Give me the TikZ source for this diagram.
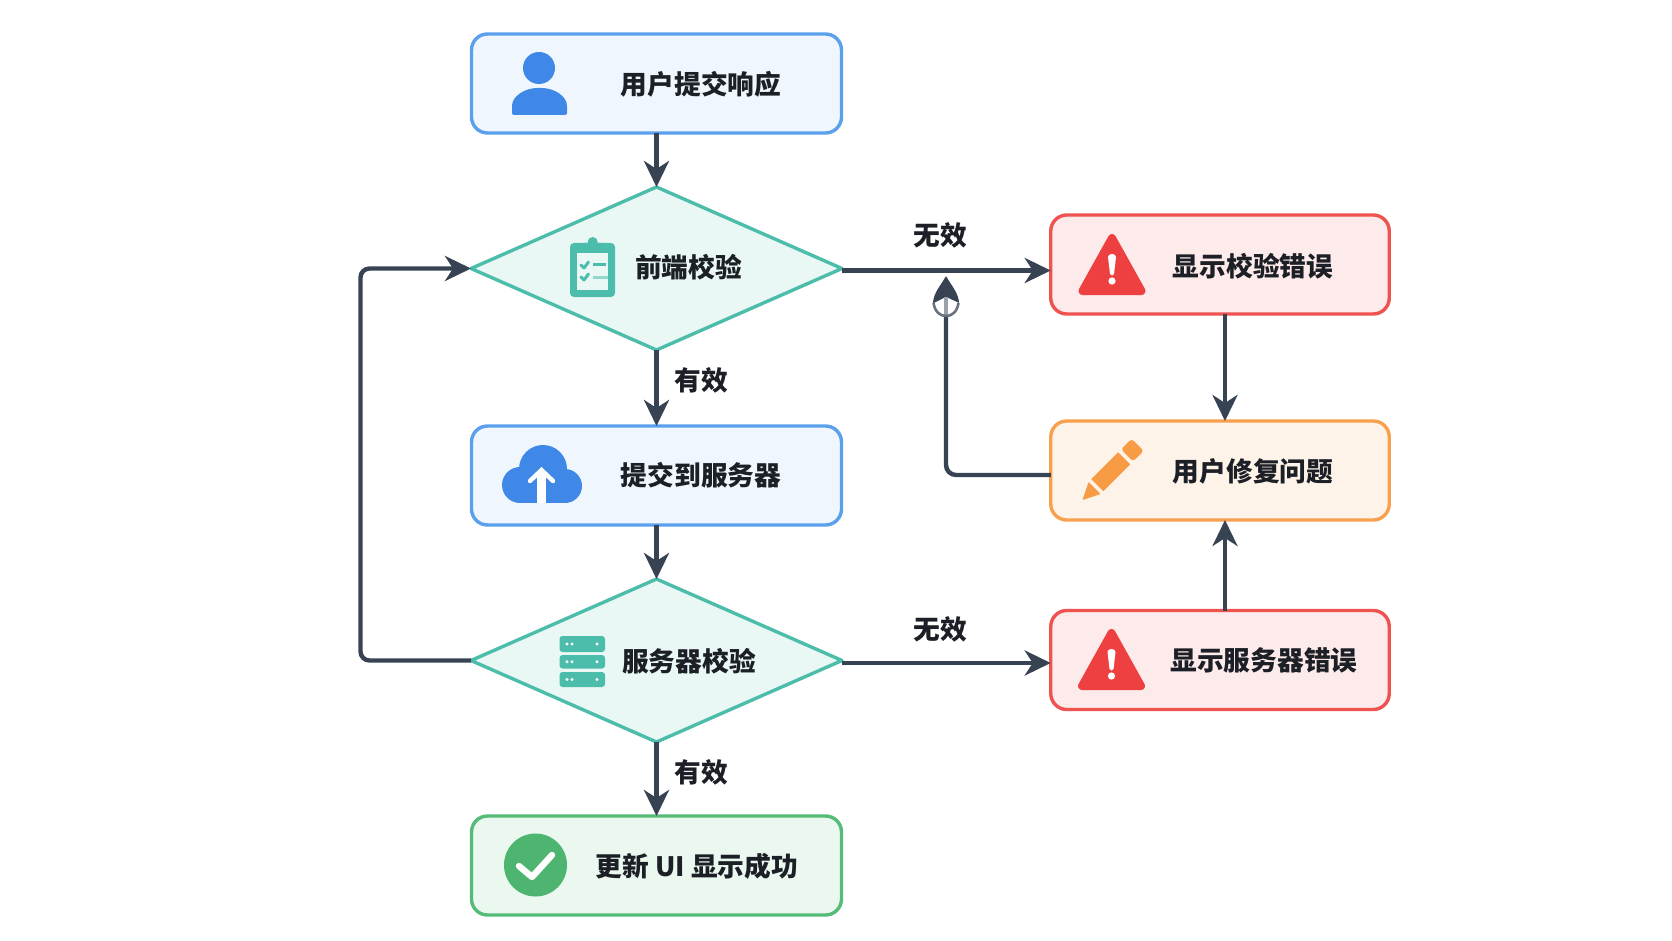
\documentclass[tikz,border=0pt]{standalone}
\usepackage{fontspec}
\setmainfont{Noto Sans CJK SC}
\usetikzlibrary{shapes.geometric,arrows.meta,calc}
\definecolor{bluefill}{HTML}{F0F6FE}
\definecolor{blueline}{HTML}{5BA0EC}
\definecolor{blueicon}{HTML}{3F88E8}
\definecolor{tealfill}{HTML}{EAF8F5}
\definecolor{tealline}{HTML}{4DBDAB}
\definecolor{redfill}{HTML}{FDEAEA}
\definecolor{redline}{HTML}{EF5350}
\definecolor{redicon}{HTML}{EE4040}
\definecolor{orgfill}{HTML}{FEF3E8}
\definecolor{orgline}{HTML}{F9A04E}
\definecolor{orgicon}{HTML}{F79C45}
\definecolor{grnfill}{HTML}{EAF8EF}
\definecolor{grnline}{HTML}{55BC78}
\definecolor{grnicon}{HTML}{4DB56F}
\definecolor{wire}{HTML}{374353}
\definecolor{ink}{HTML}{1C2026}
\tikzset{
  box/.style={draw,rounded corners=16pt,line width=3.4pt,minimum width=#1,minimum height=99pt,inner sep=0pt,outer sep=0pt},
  bluebox/.style={box=370pt,draw=blueline,fill=bluefill},
  grnbox/.style={box=370pt,draw=grnline,fill=grnfill},
  redbox/.style={box=338.5pt,draw=redline,fill=redfill},
  orgbox/.style={box=338.5pt,draw=orgline,fill=orgfill},
  decision/.style={diamond,draw=tealline,fill=tealfill,line width=3.4pt,line join=round,minimum width=371pt,minimum height=163pt,inner sep=0pt,outer sep=0pt},
  lbl/.style={font=\fontsize{26.7}{30}\selectfont\bfseries,text=ink,inner sep=0pt},
  conn/.style={draw=wire,line width=4.4pt,-{Stealth[length=26pt,width=25pt,inset=8pt]}},
  connplain/.style={draw=wire,line width=4.4pt},
}
\begin{document}
\begin{tikzpicture}[x=1pt,y=-1pt]
\useasboundingbox (0,0) rectangle (1672,941);
% shapes
\node[bluebox] (b1) at (656.5,83.5) {};
\node[decision] (d1) at (656.5,268.5) {};
\node[bluebox] (b2) at (656.5,475.5) {};
\node[decision] (d2) at (656.5,660.5) {};
\node[bluebox,draw=grnline,fill=grnfill] (b3) at (656.5,865.5) {};
\node[redbox] (r1) at (1220,264.5) {};
\node[orgbox] (o1) at (1220,470.5) {};
\node[redbox] (r2) at (1220,660) {};
\coordinate (lp) at (360.5,0);
\coordinate (ret) at (946,0);
\coordinate (rettip) at (946,277);
% connectors
\draw[conn] (b1.south) -- (d1.north);
\draw[conn] (d1.south) -- (b2.north);
\draw[conn] (b2.south) -- (d2.north);
\draw[conn] (d2.south) -- (b3.north);
\draw[conn] ([yshift=-2pt]d1.east) -- ([yshift=-2pt]d1.east -| r1.west);
\draw[conn] ([yshift=-2.5pt]d2.east) -- ([yshift=-2.5pt]d2.east -| r2.west);
\draw[conn] ([xshift=5pt]r1.south) -- ([xshift=5pt]o1.north);
\draw[conn] ([xshift=5pt]r2.north) -- ([xshift=5pt]o1.south);
\draw[conn,rounded corners=9pt] (d2.west) -- (d2.west -| lp) -- (d1.west -| lp) -- (d1.west);
\draw[connplain,rounded corners=10pt] ([yshift=-4.5pt]o1.west) -- ([yshift=-4.5pt]o1.west -| ret) -- (ret |- rettip) -- ([yshift=-25pt]rettip);
\fill[wire,line join=round,draw=wire,line width=1pt] (rettip) .. controls (941,286) and (934,293) .. (933.5,303) -- (946,297) -- (958.5,303) .. controls (958,293) and (951,286) .. (rettip) -- cycle;
\fill[white] (934,303) .. controls (935,312) and (940,316) .. (946,316) .. controls (952,316) and (957,312) .. (959,303) -- (946,297) -- cycle;
\draw[line width=4pt,color=wire!50] (946,297) -- (946,317);
\draw[line width=2.6pt,color=wire!75] (933.5,303) .. controls (935,312) and (940,316) .. (946,316) .. controls (952,316) and (957,312) .. (958.5,303);
% texts
\node[lbl] (t1) at (701,84) {用户提交响应};
\node[lbl] (t2) at (688.5,267) {前端校验};
\node[lbl] (t3) at (701,475) {提交到服务器};
\node[lbl] (t4) at (689,661) {服务器校验};
\node[lbl] (t5) at (697,866) {更新 UI 显示成功};
\node[lbl] (t6) at (1253,266) {显示校验错误};
\node[lbl] (t7) at (1253,471) {用户修复问题};
\node[lbl] (t8) at (1264,660) {显示服务器错误};
\node[lbl] (y1) at (701,380.5) {有效};
\node[lbl] (y2) at (701,772.5) {有效};
\node[lbl] (n1) at (940,235) {无效};
\node[lbl] (n2) at (940,629.5) {无效};
% person icon
\fill[blueicon] (539,68) circle (16);
\fill[blueicon,rounded corners=2pt] (512,115) -- (512,108) .. controls (512,96) and (525,88) .. (539.5,88) .. controls (554,88) and (567,96) .. (567,108) -- (567,115) -- cycle;
% clipboard icon
\fill[tealline,rounded corners=4pt] (570,243) rectangle (615,297);
\fill[tealfill] (577,253) rectangle (608,290);
\fill[tealline,rounded corners=2pt] (582,243) rectangle (604,253);
\fill[tealline] (592.7,242) circle (5);
\draw[tealline,line width=3pt,line cap=round,line join=round] (581,265) -- (584,268) -- (588.5,262);
\draw[tealline,line width=3pt,line cap=round,line join=round] (581,277) -- (584,280) -- (588.5,274);
\draw[tealline,line width=3pt] (593,264.5) -- (606,264.5);
\draw[tealline!60,line width=3pt] (593,277) -- (608,277);
% cloud icon
\fill[blueicon] (520,485) circle (18);
\fill[blueicon] (543,469) circle (24);
\fill[blueicon] (565,486) circle (17);
\fill[blueicon] (520,480) rectangle (565,503);
\fill[white] (537,473) rectangle (546,503);
\draw[white,line width=4.4pt,line cap=round,line join=miter] (530,481) -- (541.5,470) -- (553,481);
% server icon
\foreach \ya/\yb in {636/652,655/668.5,672/687}{
  \fill[tealline,rounded corners=3pt] (559.5,\ya) rectangle (605,\yb);
  \fill[white] (567,{(\ya+\yb)/2}) circle (1.7);
  \fill[white] (572,{(\ya+\yb)/2}) circle (1.7);
  \fill[white] (597,{(\ya+\yb)/2}) circle (1.7);
}
% warning icons
\foreach \dx/\dy in {0/0,-0.5/395}{
  \begin{scope}[shift={(\dx,\dy)}]
  \fill[redicon,draw=redicon,line width=8pt,line join=round] (1112,238) -- (1082.5,291) -- (1141.5,291) -- cycle;
  \fill[white] (1108,257) .. controls (1108,253) and (1116,253) .. (1116,257) -- (1114,274) .. controls (1113.7,276) and (1110.3,276) .. (1110,274) -- cycle;
  \fill[white] (1112,281) circle (3.6);
  \end{scope}
}
% pencil icon
\begin{scope}[shift={(1082.5,500)},rotate=45]
  \fill[orgicon,rounded corners=0.8pt] (0,0) -- (17,8.5) -- (17,-8.5) -- cycle;
  \fill[orgicon] (21,-8.5) rectangle (59,8.5);
  \fill[orgicon,rounded corners=3pt] (63,-8.5) rectangle (78,8.5);
\end{scope}
% success icon
\fill[grnicon] (535.5,865) circle (31.5);
\draw[white,line width=6.4pt,line cap=round,line join=round] (519,866) -- (532,877) -- (552,855);
\end{tikzpicture}
\end{document}
